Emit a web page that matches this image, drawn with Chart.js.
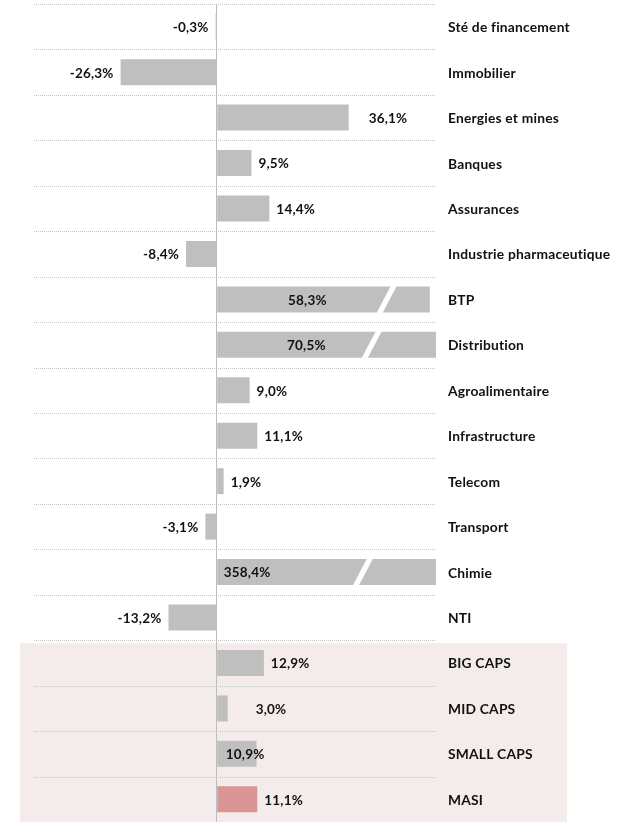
<!DOCTYPE html>
<html>
<head>
<meta charset="utf-8">
<script src="https://cdn.jsdelivr.net/npm/chart.js@4/dist/chart.umd.min.js"></script>
<style>
  html, body { margin: 0; padding: 0; background: #ffffff; }
  #wrap { width: 630px; height: 822px; position: relative; }
</style>
</head>
<body>
<div id="wrap"><canvas id="c" width="630" height="822"></canvas></div>
<script>
// ---- data ----
const categories = [
  'Sté de financement', 'Immobilier', 'Energies et mines', 'Banques', 'Assurances',
  'Industrie pharmaceutique', 'BTP', 'Distribution', 'Agroalimentaire', 'Infrastructure',
  'Telecom', 'Transport', 'Chimie', 'NTI', 'BIG CAPS', 'MID CAPS', 'SMALL CAPS', 'MASI'
];
const variations = [
  -0.3, -26.3, 36.1, 9.5, 14.4, -8.4, 58.3, 70.5, 9.0, 11.1,
  1.9, -3.1, 358.4, -13.2, 12.9, 3.0, 10.9, 11.1
];
const indexCategories = ['BIG CAPS', 'MID CAPS', 'SMALL CAPS', 'MASI'];
const highlighted = ['MASI'];

// ---- styles ----
const FONT = 'Lato, "Open Sans", sans-serif';
const BAR_GREY = '#bfbfbf';
const BAR_RED = '#d99694';
const BAND = '#f4ecea';

// label placement tweaks (style only)
const labelStyle = {
  'Energies et mines': { anchor: 'end', dx: 20, align: 'left' },
  'MID CAPS': { anchor: 'end', dx: 28, align: 'left' },
  'SMALL CAPS': { anchor: 'zero', dx: 9, align: 'left' },
  'BTP': { anchor: 'zero', dx: 110, align: 'right' },
  'Distribution': { anchor: 'zero', dx: 109, align: 'right' },
  'Chimie': { anchor: 'zero', dx: 7, align: 'left' }
};
// break mark position, in axis units
const breakAt = { 'BTP': 46.5, 'Distribution': 42.4, 'Chimie': 40.0 };

const fmt = v => v.toFixed(1).replace('.', ',') + '%';

function setTextStyle(ctx, size) {
  ctx.font = 'bold ' + size + 'px ' + FONT;
  try { ctx.textRendering = 'optimizeSpeed'; } catch (e) {}
  try { ctx.letterSpacing = '0.2px'; } catch (e) {}
}

const bandPlugin = {
  id: 'band',
  beforeDraw(chart) {
    const { ctx, chartArea, scales } = chart;
    const y = scales.y;
    const first = categories.indexOf(indexCategories[0]);
    const pitch = y.getPixelForValue(1) - y.getPixelForValue(0);
    const top = y.getPixelForValue(first) - pitch / 2 + 3;
    ctx.save();
    ctx.fillStyle = BAND;
    ctx.fillRect(chartArea.left - 14, top, (chartArea.right + 131) - (chartArea.left - 14), chart.height - top);
    ctx.restore();
  },
  beforeDatasetsDraw(chart) {
    const { ctx, chartArea, scales } = chart;
    const y = scales.y;
    const pitch = y.getPixelForValue(1) - y.getPixelForValue(0);
    ctx.save();
    ctx.strokeStyle = '#c6c6c6';
    ctx.lineWidth = 1;
    ctx.setLineDash([1, 1]);
    for (let i = 0; i <= categories.length; i++) {
      const yy = Math.round(y.getPixelForValue(i) - pitch / 2) + 0.5;
      ctx.beginPath();
      ctx.moveTo(chartArea.left, yy);
      ctx.lineTo(chartArea.right, yy);
      ctx.stroke();
    }
    ctx.restore();
  }
};

const labelsPlugin = {
  id: 'labels',
  afterDatasetsDraw(chart) {
    const { ctx, chartArea, scales } = chart;
    const meta = chart.getDatasetMeta(0);
    const xs = scales.x;
    const zero = xs.getPixelForValue(0);
    ctx.save();
    // break marks
    meta.data.forEach((bar, i) => {
      const name = categories[i];
      if (!(name in breakAt)) return;
      const cx = xs.getPixelForValue(breakAt[name]);
      const cy = bar.y;
      const h = 19, s = 10, w = 6;
      ctx.fillStyle = '#ffffff';
      ctx.beginPath();
      ctx.moveTo(cx + s - w / 2, cy - h);
      ctx.lineTo(cx + s + w / 2, cy - h);
      ctx.lineTo(cx - s + w / 2, cy + h);
      ctx.lineTo(cx - s - w / 2, cy + h);
      ctx.closePath();
      ctx.fill();
    });
    // value labels
    setTextStyle(ctx, 13.5);
    ctx.fillStyle = '#111111';
    ctx.textBaseline = 'middle';
    meta.data.forEach((bar, i) => {
      const v = variations[i];
      const name = categories[i];
      const end = Math.min(Math.max(bar.x, chartArea.left), chartArea.right);
      let x, align;
      const st = labelStyle[name];
      if (st) {
        x = (st.anchor === 'zero' ? zero : end) + st.dx;
        align = st.align;
      } else if (v >= 0) {
        x = end + 7; align = 'left';
      } else {
        x = end - 7; align = 'right';
      }
      ctx.textAlign = align;
      ctx.fillText(fmt(v), x, bar.y + 1);
    });
    // category labels
    setTextStyle(ctx, 13.8);
    ctx.textAlign = 'left';
    meta.data.forEach((bar, i) => {
      ctx.fillText(categories[i], chartArea.right + 12, bar.y + 1);
    });
    ctx.restore();
  }
};

new Chart(document.getElementById('c'), {
  type: 'bar',
  data: {
    labels: categories,
    datasets: [{
      data: variations,
      backgroundColor: categories.map(c => highlighted.includes(c) ? BAR_RED : BAR_GREY),
      borderWidth: 0,
      barPercentage: 0.8,
      categoryPercentage: 0.715,
      clip: 0
    }]
  },
  options: {
    indexAxis: 'y',
    responsive: false,
    animation: false,
    devicePixelRatio: 1,
    layout: { padding: { left: 34, right: 194, top: 4, bottom: 0 } },
    plugins: { legend: { display: false }, tooltip: { enabled: false } },
    scales: {
      x: {
        min: -50, max: 60,
        ticks: { display: false, stepSize: 10 },
        grid: {
          drawTicks: false,
          color: ctx => (ctx.tick && ctx.tick.value === 0) ? '#bdbdbd' : 'rgba(0,0,0,0)',
          lineWidth: 1
        },
        border: { display: false }
      },
      y: {
        ticks: { display: false },
        grid: { display: false, drawTicks: false },
        border: { display: false }
      }
    }
  },
  plugins: [bandPlugin, labelsPlugin]
});
</script>
</body>
</html>
